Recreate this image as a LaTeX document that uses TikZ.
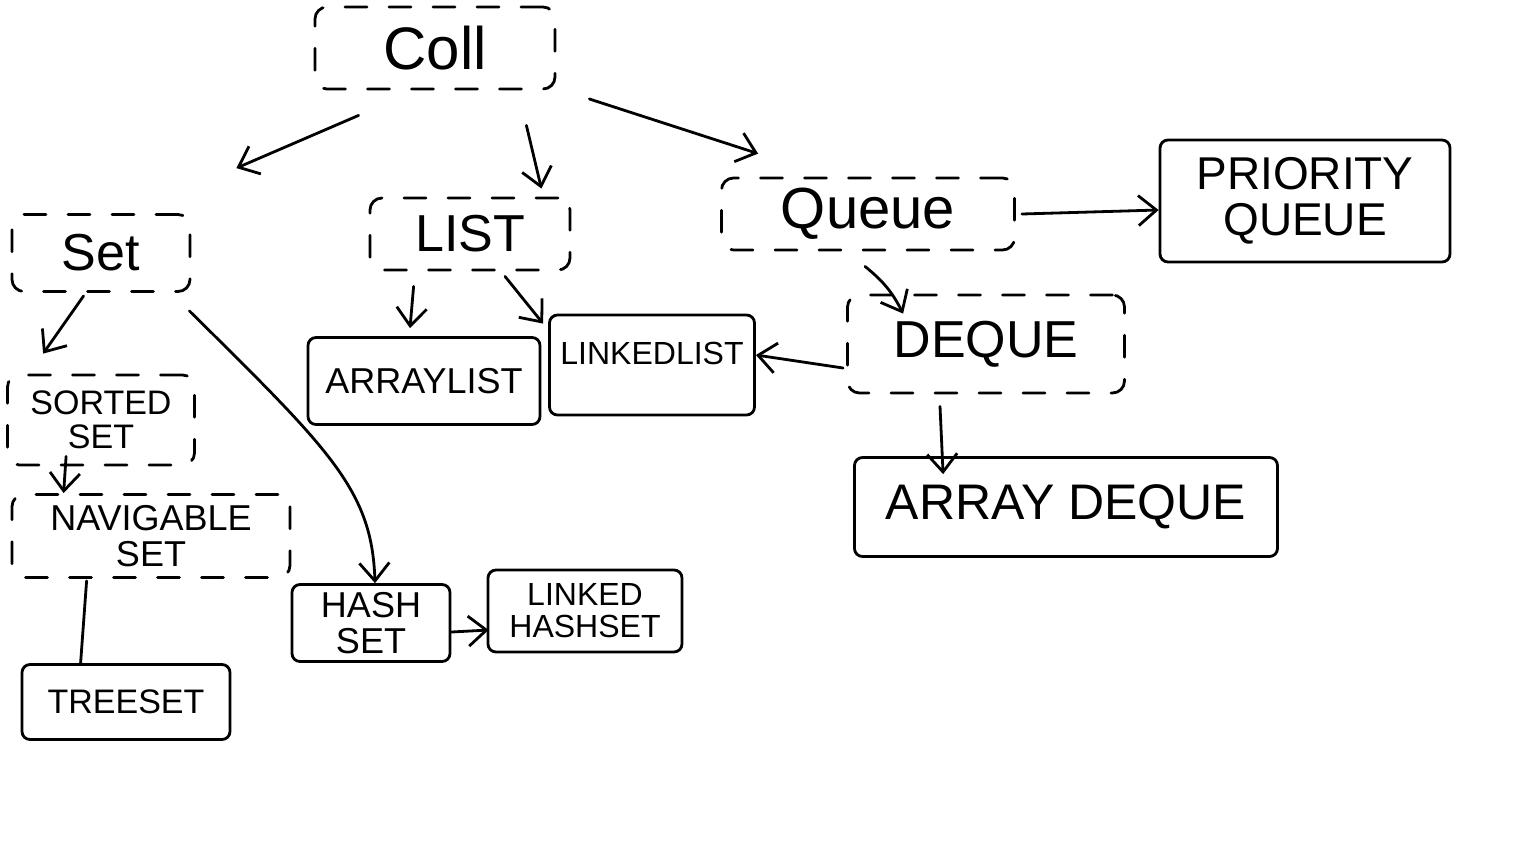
\documentclass[tikz,border=0pt]{standalone}
\usepackage{fontspec}
\setmainfont{Liberation Sans}
\usetikzlibrary{arrows.meta,calc}
\begin{document}
\begin{tikzpicture}[x=0.5pt,y=-0.5pt, line width=1.4pt, line cap=round,
  sz/.style 2 args={minimum width=#1*0.5pt, minimum height=#2*0.5pt},
  f/.style={font=\fontsize{#1}{#1}\selectfont},
  iface/.style={draw, dash pattern=on 11pt off 11pt, rounded corners=6pt, inner sep=0pt, align=center},
  cls/.style={draw, rounded corners=4pt, inner sep=0pt, align=center},
  arr/.style={-{Straight Barb[length=9pt,width=15pt,line width=1.4pt]}},
  plain/.style={-}]
\useasboundingbox (0,0) rectangle (1529,852);
% nodes
\node[iface, sz={240}{82}, f=30] (coll) at (435,48) {Coll};
\node[iface, sz={178}{77}, f=26] (set) at (101,253) {Set};
\node[iface, sz={200}{72}, f=26] (list) at (470,234) {LIST};
\node[iface, sz={293}{72}, f=29] (queue) at (868,214) {Queue};
\node[cls, sz={290}{122}, f=23] (pq) at (1305,201) {PRIORITY\\QUEUE};
\node[iface, sz={277}{98}, f=26] (deque) at (986,344) {DEQUE};
\node[cls, sz={232}{87}, f=18] (al) at (424,381) {ARRAYLIST};
\node[cls, sz={205}{100}, f=16] (ll) at (652,365) {\raisebox{12pt}{LINKEDLIST}};
\node[cls, sz={423}{99}, f=25] (ad) at (1066,507) {ARRAY DEQUE};
\node[iface, sz={187}{90}, f=17] (sorted) at (101,420) {SORTED\\SET};
\node[iface, sz={278}{83}, f=18] (nav) at (151,536) {NAVIGABLE\\SET};
\node[cls, sz={208}{75}, f=17] (tree) at (126,702) {TREESET};
\node[cls, sz={158}{77}, f=18] (hash) at (371,623) {HASH\\SET};
\node[cls, sz={194}{82}, f=16] (lhs) at (585,611) {LINKED\\HASHSET};
% connectors
\draw[arr] ([shift={(45,25)}]coll.south west) -- ([shift={(45,-45)}]set.north east);
\draw[arr] ([shift={(-30,35)}]coll.south east) -- ([shift={(-30,-8)}]list.north east);
\draw[arr] ([shift={(33,51)}]coll.east) -- ([shift={(38,-23)}]queue.north west);
\draw[arr] ([xshift=3pt]queue.east) -- ([yshift=-4.5pt]pq.west);
\draw[arr] ([shift={(-3,15)}]queue.south) to[bend left=12] ([shift={(57,20)}]deque.north west);
\draw[arr] ([shift={(-3,24)}]deque.west) -- ([shift={(0,-10)}]ll.east);
\draw[arr] ([shift={(-46,12)}]deque.south) -- ([shift={(90,18)}]ad.north west);
\draw[arr] ([shift={(45,15)}]list.south west) -- ([shift={(-14,-8)}]al.north);
\draw[arr] ([shift={(35,5)}]list.south) -- ([shift={(-5,10)}]ll.north west);
\draw[arr] ([shift={(73,3)}]set.south west) -- ([shift={(37,-20)}]sorted.north west);
\draw[arr] ([shift={(-2,18)}]set.south east) .. controls (330,450) and (372,490) .. ([shift={(4,0)}]hash.north);
\draw[arr] ([shift={(60,-10)}]sorted.south west) -- ([shift={(53,0)}]nav.north west);
\draw[plain] ([shift={(76,2)}]nav.south west) -- ([shift={(60,0)}]tree.north west);
\draw[arr] ([shift={(0,9)}]hash.east) -- ([shift={(2,19)}]lhs.west);
\end{tikzpicture}
\end{document}
